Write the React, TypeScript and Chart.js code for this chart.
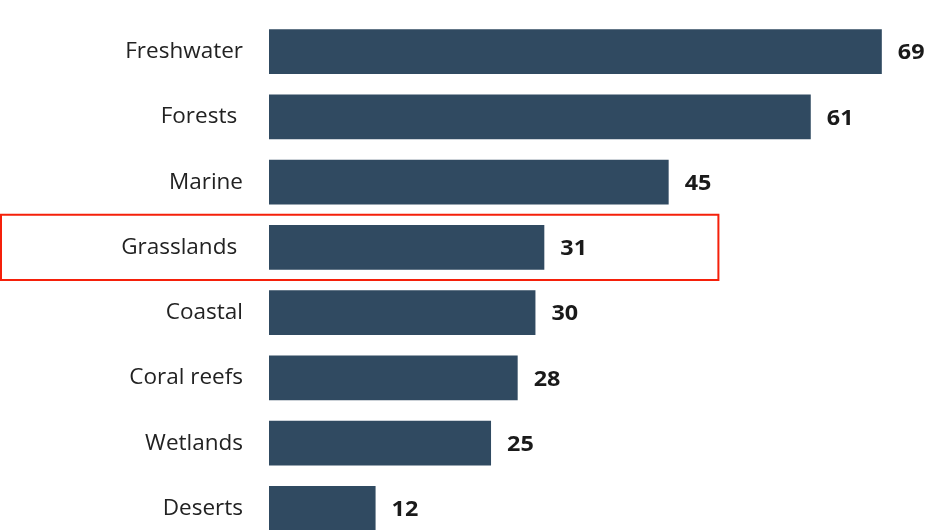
import React, { useEffect, useRef } from "react";
import { Chart, registerables } from "chart.js";

Chart.register(...registerables);

const categories = ["Freshwater", "Forests ", "Marine", "Grasslands ", "Coastal", "Coral reefs", "Wetlands", "Deserts"];
const values = [69, 61, 45, 31, 30, 28, 25, 12];
const highlightIndex = 3;
const highlightExtent = 50.6;

const BAR_COLOR = "#304a61";
const TEXT_COLOR = "#222222";

const valueLabels = {
  id: "valueLabels",
  afterDatasetsDraw(chart: any) {
    const ctx = chart.ctx;
    const meta = chart.getDatasetMeta(0);
    ctx.save();
    ctx.font = "bold 20.5px 'Open Sans'";
    ctx.fillStyle = "#1a1a1a";
    ctx.textAlign = "left";
    ctx.textBaseline = "middle";
    meta.data.forEach((bar: any, i: number) => {
      ctx.save();
      ctx.translate(bar.x + 16, bar.y + 2);
      ctx.scale(1.14, 1);
      ctx.fillText(String(values[i]), 0, 0);
      ctx.restore();
    });
    ctx.restore();
  },
};

const highlightBox = {
  id: "highlightBox",
  afterDraw(chart: any) {
    const ctx = chart.ctx;
    const y = chart.scales.y;
    const x = chart.scales.x;
    const cy = y.getPixelForValue(highlightIndex);
    const half = (y.getPixelForValue(1) - y.getPixelForValue(0)) / 2;
    const right = x.getPixelForValue(highlightExtent);
    ctx.save();
    ctx.strokeStyle = "#f5200a";
    ctx.lineWidth = 2;
    ctx.strokeRect(1, cy - half, right - 1, half * 2);
    ctx.restore();
  },
};

export default function App() {
  const ref = useRef<HTMLCanvasElement>(null);
  useEffect(() => {
    document.body.style.margin = "0";
    document.body.style.overflow = "hidden";
    const chart = new Chart(ref.current!, {
      type: "bar",
      data: {
        labels: categories,
        datasets: [
          {
            data: values,
            backgroundColor: BAR_COLOR,
            borderWidth: 0,
            categoryPercentage: 1,
            barPercentage: 0.685,
          },
        ],
      },
      options: {
        indexAxis: "y",
        animation: false,
        responsive: false,
        maintainAspectRatio: false,
        layout: { padding: { top: 19, bottom: 0, left: 0, right: 0 } },
        plugins: { legend: { display: false }, tooltip: { enabled: false } },
        scales: {
          x: {
            display: false,
            min: 0,
            max: 74.2,
          },
          y: {
            grid: { display: false, drawTicks: true, tickLength: 26 },
            border: { display: false },
            ticks: {
              padding: 0,
              color: TEXT_COLOR,
              font: { family: "'Open Sans'", size: 22.5 },
            },
            afterFit: (s: any) => {
              s.width = 269;
              s.paddingTop = 0;
              s.paddingBottom = 0;
            },
          },
        },
      },
      plugins: [valueLabels, highlightBox],
    });
    return () => chart.destroy();
  }, []);
  return (
    <div style={{ width: 928, height: 530, overflow: "hidden" }}>
      <canvas ref={ref} width={928} height={541} style={{ display: "block" }} />
    </div>
  );
}
